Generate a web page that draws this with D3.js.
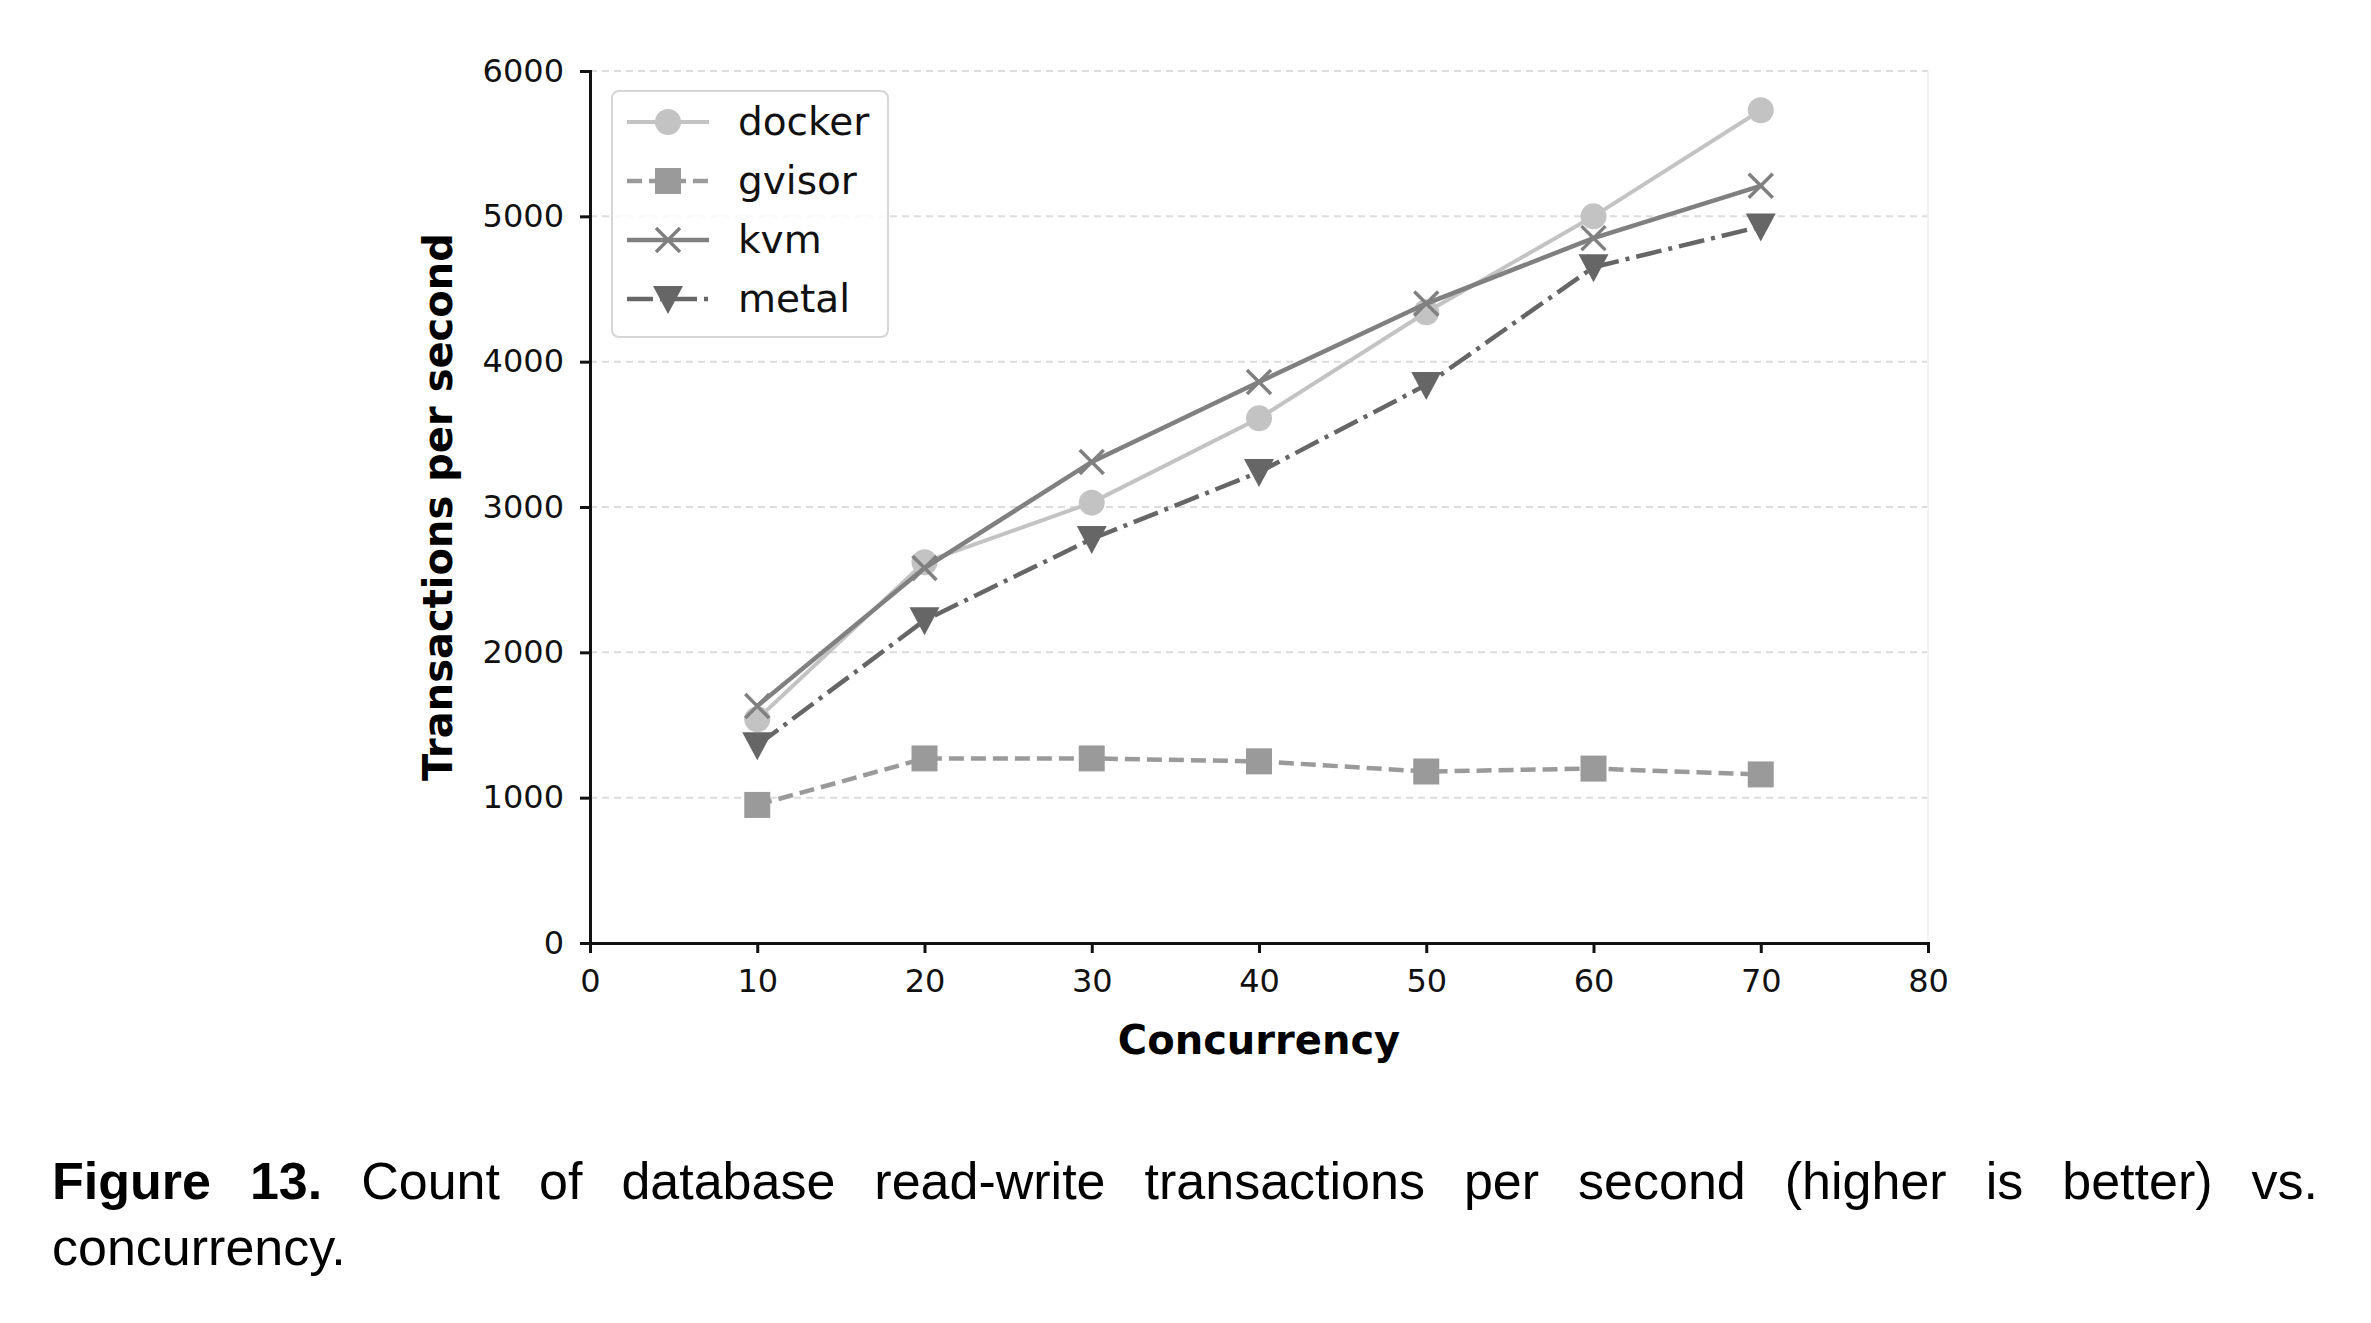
<!DOCTYPE html>
<html>
<head>
<meta charset="utf-8">
<script src="https://cdn.jsdelivr.net/npm/d3@7"></script>
<style>
  body { margin: 0; background: #fff; }
  #graph { position: relative; width: 2371px; height: 1323px; }
  .cap { position: absolute; left: 52px; width: 2266px; font-family: "Liberation Sans", Arial, sans-serif;
         font-size: 52px; color: #000; }
  #cap1 { top: 1151px; text-align: justify; text-align-last: justify; }
  #cap2 { top: 1217px; }
</style>
</head>
<body>
<div id="graph">
  <div class="cap" id="cap1"><b>Figure 13.</b> Count of database read-write transactions per second (higher is better) vs.</div>
  <div class="cap" id="cap2">concurrency.</div>
</div>
<script>
// values
var concurrency = [10, 20, 30, 40, 50, 60, 70];
var docker = [1540, 2620, 3030, 3610, 4340, 5000, 5730];
var gvisor = [950, 1270, 1270, 1250, 1180, 1200, 1160];
var kvm = [1630, 2580, 3310, 3860, 4400, 4850, 5210];
var metal = [1360, 2220, 2780, 3240, 3840, 4650, 4930];
var seriesNames = ['docker', 'gvisor', 'kvm', 'metal'];
var xTicks = [0, 10, 20, 30, 40, 50, 60, 70, 80];
var yTicks = [0, 1000, 2000, 3000, 4000, 5000, 6000];

window.onload = start;

function start() {
    var width = 2371;
    var height = 1323;
    var left = 590, right = 1928, top = 71, bottom = 943;

    var svg = d3.select('#graph')
        .append('svg')
        .attr('width', width)
        .attr('height', height)
        .style('position', 'absolute')
        .style('left', 0)
        .style('top', 0);

    var xScale = d3.scaleLinear().domain([0, 80]).range([left, right]);
    var yScale = d3.scaleLinear().domain([0, 6000]).range([bottom, top]);

    // grid
    svg.append('g')
        .selectAll('line')
        .data(yTicks.slice(1))
        .enter()
        .append('line')
        .attr('x1', left)
        .attr('x2', right)
        .attr('y1', function(d) { return yScale(d); })
        .attr('y2', function(d) { return yScale(d); })
        .attr('stroke', '#dcdcdc')
        .attr('stroke-width', 2)
        .attr('stroke-dasharray', '7,5');

    // faint right edge
    svg.append('line')
        .attr('x1', right).attr('x2', right)
        .attr('y1', top).attr('y2', bottom)
        .attr('stroke', '#f2f2f2').attr('stroke-width', 2);

    var xAxis = d3.axisBottom(xScale).tickValues(xTicks).tickFormat(d3.format('d')).tickSize(10).tickPadding(16);
    var yAxis = d3.axisLeft(yScale).tickValues(yTicks).tickFormat(d3.format('d')).tickSize(10).tickPadding(16);

    var gx = svg.append('g')
        .attr('transform', 'translate(0,' + bottom + ')')
        .call(xAxis);
    var gy = svg.append('g')
        .attr('transform', 'translate(' + left + ',0)')
        .call(yAxis);

    [gx, gy].forEach(function(g) {
        g.select('.domain').attr('stroke', '#111').attr('stroke-width', 3);
        g.selectAll('.tick line').attr('stroke', '#111').attr('stroke-width', 3);
        g.selectAll('.tick text')
            .attr('font-family', 'DejaVu Sans')
            .attr('font-size', 32)
            .attr('fill', '#111');
    });

    svg.append('text')
        .attr('x', (left + right) / 2)
        .attr('y', 1054)
        .attr('text-anchor', 'middle')
        .attr('font-family', 'DejaVu Sans')
        .attr('font-weight', 'bold')
        .attr('font-size', 40)
        .text('Concurrency');

    svg.append('text')
        .attr('transform', 'translate(452,' + ((top + bottom) / 2) + ') rotate(-90)')
        .attr('text-anchor', 'middle')
        .attr('font-family', 'DejaVu Sans')
        .attr('font-weight', 'bold')
        .attr('font-size', 40)
        .text('Transactions per second');

    var styles = {
        docker: { values: docker, color: '#c3c3c3', dash: null, marker: 'circle', width: 4 },
        gvisor: { values: gvisor, color: '#9a9a9a', dash: '15,7', marker: 'square', width: 4.5 },
        kvm: { values: kvm, color: '#808080', dash: null, marker: 'x', width: 4.5 },
        metal: { values: metal, color: '#666666', dash: '26,7,4,7', marker: 'tri', width: 4.5 }
    };

    var line = d3.line()
        .x(function(d) { return xScale(d[0]); })
        .y(function(d) { return yScale(d[1]); });

    function drawMarker(g, type, color, x, y) {
        if (type === 'circle') {
            g.append('circle').attr('cx', x).attr('cy', y).attr('r', 13).attr('fill', color);
        } else if (type === 'square') {
            g.append('rect').attr('x', x - 13).attr('y', y - 13).attr('width', 26).attr('height', 26).attr('fill', color);
        } else if (type === 'x') {
            g.append('path')
                .attr('d', 'M' + (x - 12) + ',' + (y - 12) + 'L' + (x + 12) + ',' + (y + 12) +
                    'M' + (x - 12) + ',' + (y + 12) + 'L' + (x + 12) + ',' + (y - 12))
                .attr('stroke', color).attr('stroke-width', 3.5).attr('fill', 'none');
        } else {
            g.append('path')
                .attr('d', 'M' + (x - 15) + ',' + (y - 13) + 'L' + (x + 15) + ',' + (y - 13) + 'L' + x + ',' + (y + 15) + 'Z')
                .attr('fill', color);
        }
    }

    seriesNames.forEach(function(name) {
        var s = styles[name];
        var pts = concurrency.map(function(c, i) { return [c, s.values[i]]; });
        var g = svg.append('g');
        g.append('path')
            .datum(pts)
            .attr('d', line)
            .attr('fill', 'none')
            .attr('stroke', s.color)
            .attr('stroke-width', s.width)
            .attr('stroke-dasharray', s.dash);
        pts.forEach(function(p) {
            drawMarker(g, s.marker, s.color, xScale(p[0]), yScale(p[1]));
        });
    });

    // legend
    var lg = svg.append('g');
    lg.append('rect')
        .attr('x', 612).attr('y', 91)
        .attr('width', 276).attr('height', 246)
        .attr('rx', 7)
        .attr('fill', '#fff')
        .attr('fill-opacity', 0.85)
        .attr('stroke', '#d6d6d6')
        .attr('stroke-width', 2);

    seriesNames.forEach(function(name, i) {
        var s = styles[name];
        var y = 122 + i * 59;
        lg.append('line')
            .attr('x1', 627).attr('x2', 709)
            .attr('y1', y).attr('y2', y)
            .attr('stroke', s.color)
            .attr('stroke-width', s.width)
            .attr('stroke-dasharray', s.dash);
        drawMarker(lg, s.marker, s.color, 668, y);
        lg.append('text')
            .attr('x', 738).attr('y', y + 13)
            .attr('font-family', 'DejaVu Sans')
            .attr('font-size', 39)
            .attr('fill', '#111')
            .text(name);
    });
}
</script>
</body>
</html>
